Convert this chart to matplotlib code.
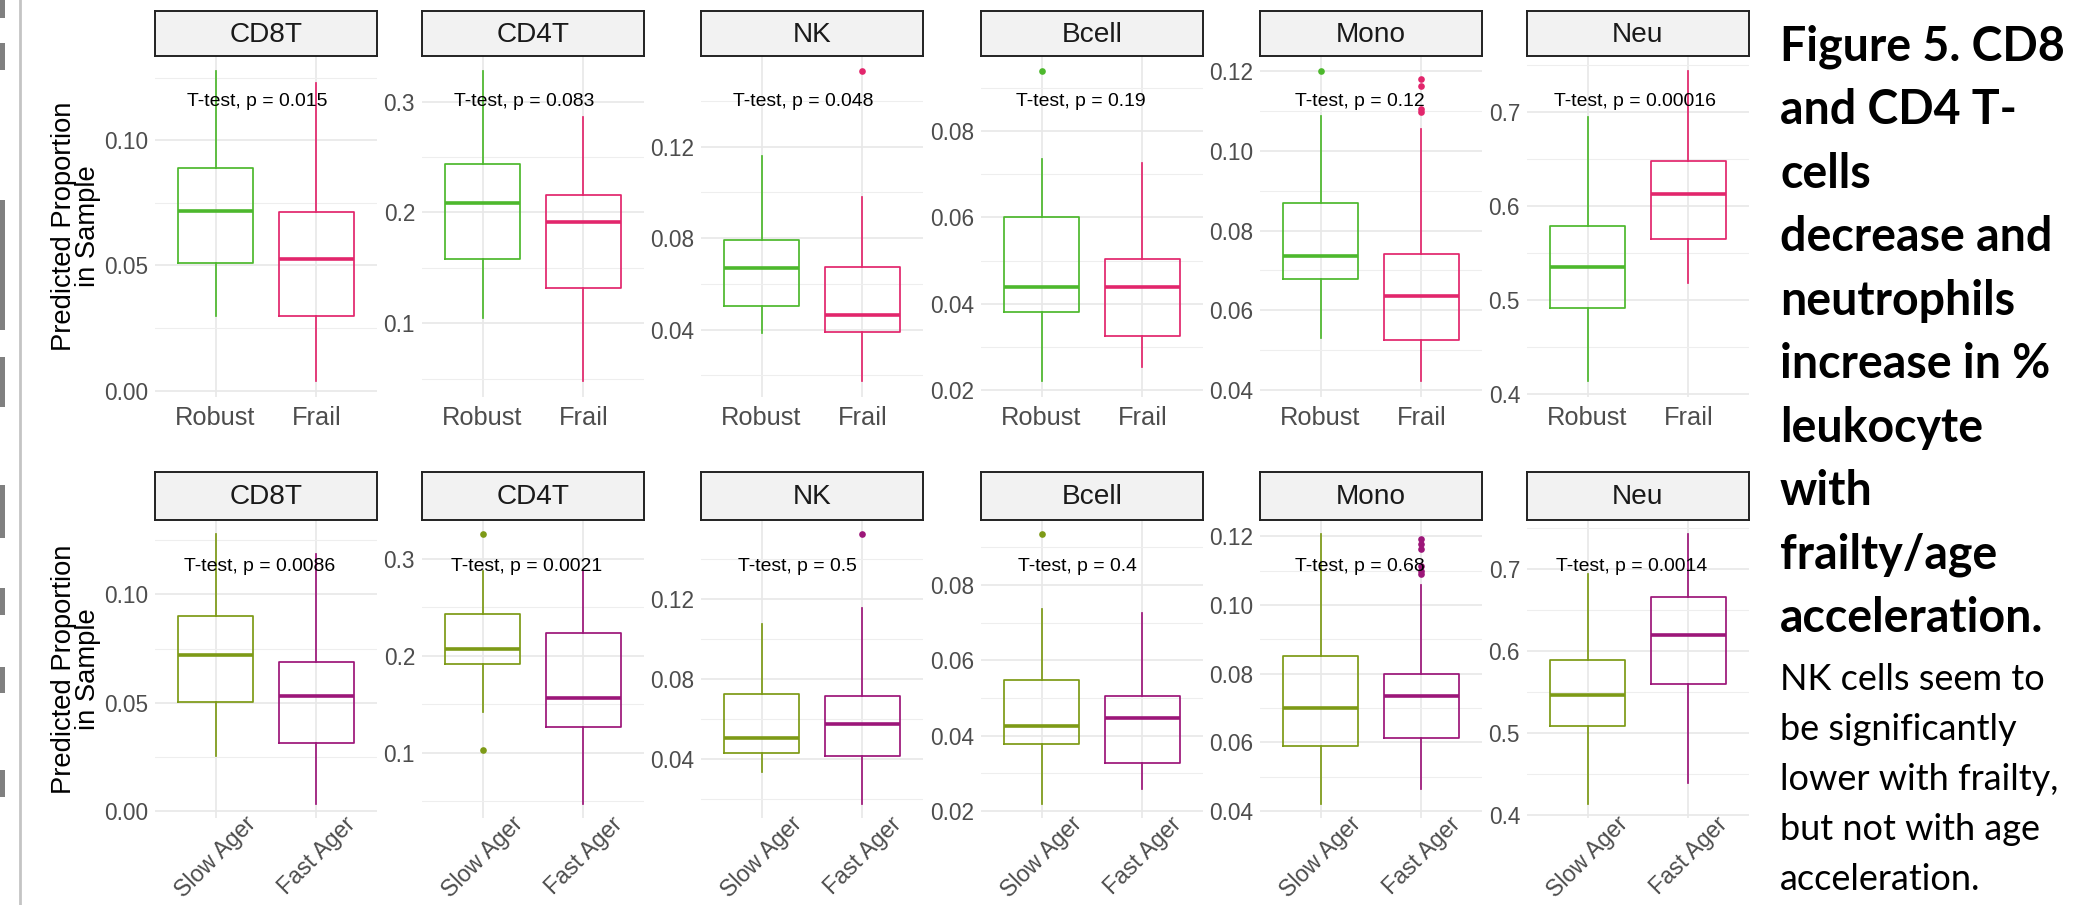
import matplotlib
matplotlib.use('Agg')
import matplotlib.pyplot as plt
from matplotlib import font_manager, ticker
from matplotlib.patches import Rectangle
from matplotlib.lines import Line2D

# ---------------- data ----------------
cells = ['CD8T', 'CD4T', 'NK', 'Bcell', 'Mono', 'Neu']
frailty_groups = ['Robust', 'Frail']
ager_groups = ['Slow Ager', 'Fast Ager']

robust_whislo = [0.0299, 0.1048, 0.0386, 0.0219, 0.0530, 0.4135]
robust_q1     = [0.0511, 0.1584, 0.0505, 0.0381, 0.0678, 0.4922]
robust_med    = [0.0716, 0.2084, 0.0671, 0.0439, 0.0737, 0.5358]
robust_q3     = [0.0890, 0.2440, 0.0790, 0.0601, 0.0869, 0.5791]
robust_whishi = [0.1275, 0.3274, 0.1158, 0.0735, 0.1087, 0.6947]
robust_out    = [[], [], [], [0.0939], [0.1200], []]

frail_whislo = [0.0036, 0.0473, 0.0173, 0.0252, 0.0421, 0.5188]
frail_q1     = [0.0299, 0.1322, 0.0389, 0.0325, 0.0526, 0.5656]
frail_med    = [0.0527, 0.1912, 0.0465, 0.0439, 0.0636, 0.6128]
frail_q3     = [0.0713, 0.2154, 0.0674, 0.0504, 0.0742, 0.6479]
frail_whishi = [0.1230, 0.2867, 0.0981, 0.0726, 0.1055, 0.7433]
frail_out    = [[], [], [0.1528], [], [0.1182, 0.1163, 0.1105, 0.1099], []]

slow_whislo = [0.0256, 0.1423, 0.0335, 0.0217, 0.0419, 0.4126]
slow_q1     = [0.0506, 0.1918, 0.0432, 0.0379, 0.0590, 0.5081]
slow_med    = [0.0722, 0.2072, 0.0505, 0.0426, 0.0699, 0.5462]
slow_q3     = [0.0902, 0.2433, 0.0725, 0.0549, 0.0852, 0.5887]
slow_whishi = [0.1281, 0.2872, 0.1075, 0.0737, 0.1208, 0.6944]
slow_out    = [[], [0.3264, 0.1031], [], [0.0937], [], []]

fast_whislo = [0.0032, 0.0464, 0.0173, 0.0257, 0.0463, 0.4394]
fast_q1     = [0.0315, 0.1268, 0.0417, 0.0326, 0.0612, 0.5603]
fast_med    = [0.0531, 0.1563, 0.0574, 0.0447, 0.0734, 0.6198]
fast_q3     = [0.0689, 0.2240, 0.0717, 0.0505, 0.0799, 0.6660]
fast_whishi = [0.1186, 0.2872, 0.1158, 0.0725, 0.1058, 0.7437]
fast_out    = [[], [], [0.1529], [], [0.1193, 0.1178, 0.1162, 0.1113, 0.1100, 0.1089], []]

frailty_p = ['0.015', '0.083', '0.048', '0.19', '0.12', '0.00016']
ager_p    = ['0.0086', '0.0021', '0.5', '0.4', '0.68', '0.0014']

y_step     = [0.05, 0.1, 0.04, 0.02, 0.02, 0.1]
y_decimals = [2, 1, 2, 2, 2, 1]

y_label = 'Predicted Proportion\nin Sample'

title_bold_lines = ['Figure 5. CD8', 'and CD4 T-', 'cells', 'decrease and', 'neutrophils',
                    'increase in %', 'leukocyte', 'with', 'frailty/age', 'acceleration.']
title_reg_lines = ['NK cells seem to', 'be significantly', 'lower with frailty,',
                   'but not with age', 'acceleration.']

# ---------------- styles ----------------
W, H = 2081, 905
fig = plt.figure(figsize=(W / 100, H / 100), dpi=100)
fig.patch.set_facecolor('white')

names = {f.name for f in font_manager.fontManager.ttflist}
f_cond = 'Liberation Sans Narrow' if 'Liberation Sans Narrow' in names else 'Liberation Sans'
f_reg = 'Liberation Sans'
f_side = 'Lato' if 'Lato' in names else ('Open Sans' if 'Open Sans' in names else 'DejaVu Sans')

fig.canvas.draw()
rend = fig.canvas.get_renderer()


def fit_size(s, family, target_px, base=20.0):
    t = fig.text(0, 0, s, fontfamily=family, fontsize=base)
    w = t.get_window_extent(rend).width
    t.remove()
    return base * target_px / w


s_tick = fit_size('0.10', f_cond, 44)
s_strip = fit_size('CD8T', f_cond, 73)
s_ann = fit_size('T-test, p = 0.015', f_cond, 141)
s_xt = fit_size('Robust', f_reg, 80)
s_xrot = fit_size('Slow Ager', f_reg, 104)
s_ylab = fit_size('Predicted Proportion', f_reg, 249)

col_frailty = ['#4DB82D', '#E2266C']
col_ager = ['#7D9A16', '#9C1679']

lefts = [155, 422, 701, 981, 1260, 1527]
pw = 222
rows = [dict(top=56, bot=397, stop=11, base=106),
        dict(top=520, bot=818, stop=472, base=571)]


def fx(px):
    return px / W


def fy(py):
    return 1 - py / H


row_data = [
    (frailty_groups, col_frailty, frailty_p,
     [(robust_whislo, robust_q1, robust_med, robust_q3, robust_whishi, robust_out),
      (frail_whislo, frail_q1, frail_med, frail_q3, frail_whishi, frail_out)]),
    (ager_groups, col_ager, ager_p,
     [(slow_whislo, slow_q1, slow_med, slow_q3, slow_whishi, slow_out),
      (fast_whislo, fast_q1, fast_med, fast_q3, fast_whishi, fast_out)]),
]

ann_texts = []
for r, (groups, cols, pvals, series) in enumerate(row_data):
    g = rows[r]
    for c, cell in enumerate(cells):
        L = lefts[c]
        ax = fig.add_axes([fx(L), fy(g['bot']), pw / W, (g['bot'] - g['top']) / H])
        allv = []
        for gi, (wl, q1, md, q3, wh, out) in enumerate(series):
            st = dict(whislo=wl[c], q1=q1[c], med=md[c], q3=q3[c], whishi=wh[c],
                      fliers=out[c], label=groups[gi])
            allv += [wl[c], wh[c]] + list(out[c])
            col = cols[gi]
            ax.bxp([st], positions=[gi + 1], widths=0.75, showcaps=False,
                   manage_ticks=False,
                   boxprops=dict(color=col, lw=1.25),
                   whiskerprops=dict(color=col, lw=1.25),
                   medianprops=dict(color=col, lw=2.6, solid_capstyle='butt'),
                   flierprops=dict(marker='o', markersize=4.8, markerfacecolor=col,
                                   markeredgecolor='none'),
                   zorder=3)
        lo, hi = min(allv), max(allv)
        rng = hi - lo
        ax.set_ylim(lo - 0.05 * rng, hi + 0.05 * rng)
        ax.set_xlim(0.4, 2.6)
        ax.set_xticks([1, 2])
        ax.yaxis.set_major_locator(ticker.MultipleLocator(y_step[c]))
        ax.yaxis.set_minor_locator(ticker.MultipleLocator(y_step[c] / 2))
        ax.yaxis.set_major_formatter(ticker.FormatStrFormatter('%%.%df' % y_decimals[c]))
        ax.grid(which='major', color='#E8E8E8', lw=1.2, zorder=0)
        ax.grid(which='minor', axis='y', color='#EEEEEE', lw=0.8, zorder=0)
        ax.set_axisbelow(True)
        for s in ax.spines.values():
            s.set_visible(False)
        ax.tick_params(which='both', length=0)
        ax.tick_params(axis='y', pad=5.0, labelcolor='#4D4D4D')
        for lab in ax.get_yticklabels():
            lab.set_fontfamily(f_cond)
            lab.set_fontsize(s_tick)
        if r == 0:
            ax.set_xticklabels(groups, fontfamily=f_reg, fontsize=s_xt, color='#4D4D4D')
            ax.tick_params(axis='x', pad=6.5)
        else:
            ax.set_xticklabels(groups, fontfamily=f_reg, fontsize=s_xrot,
                               color='#4D4D4D', rotation=45, ha='center', va='top')
            ax.tick_params(axis='x', pad=-4)

        # strip
        sax = fig.add_axes([fx(L), fy(g['top']), pw / W, (g['top'] - g['stop']) / H])
        sax.set_facecolor('#F2F2F2')
        sax.set_xticks([])
        sax.set_yticks([])
        for s in sax.spines.values():
            s.set_color('#222222')
            s.set_linewidth(1.4)
        sax.text(0.5, 0.47, cell, transform=sax.transAxes, ha='center', va='center',
                 fontfamily=f_cond, fontsize=s_strip, color='#1A1A1A')

        # t-test annotation
        t = fig.text(fx(L + 40), fy(g['base']), 'T-test, p = ' + pvals[c],
                     ha='left', va='baseline', fontfamily=f_cond, fontsize=s_ann,
                     color='black', zorder=5)
        ann_texts.append((t, L))

        if c == 0:
            fig.text(fx(76), fy((g['top'] + g['bot']) / 2), y_label, rotation=90,
                     ha='center', va='center', multialignment='center',
                     fontfamily=f_reg, fontsize=s_ylab, linespacing=0.9, color='black')

# side caption
for i, line in enumerate(title_bold_lines):
    fig.text(fx(1780), fy(60.6 + 63.5 * i), line, ha='left', va='baseline',
             fontfamily=f_side, fontweight='bold', fontsize=33.5, color='black')
for i, line in enumerate(title_reg_lines):
    fig.text(fx(1780), fy(690 + 50 * i), line, ha='left', va='baseline',
             fontfamily=f_side, fontsize=26, color='black')

# slide edge decoration
fig.add_artist(Line2D([fx(20), fx(20)], [0, 1], transform=fig.transFigure,
                      color='#C4C4C4', lw=2))
for y0, y1 in [(0, 18), (43, 70), (200, 330), (357, 407), (485, 538),
               (588, 615), (667, 693), (770, 797)]:
    fig.add_artist(Rectangle((0, fy(y1)), fx(5), (y1 - y0) / H,
                             transform=fig.transFigure, color='#808080', lw=0))

# position annotations: anchor near x=1 with hjust ~0.25
fig.canvas.draw()
rend = fig.canvas.get_renderer()
for t, L in ann_texts:
    w = t.get_window_extent(rend).width
    t.set_x(fx(L + 67 - 0.25 * w))

fig.savefig('out.png', dpi=100, facecolor='white')
